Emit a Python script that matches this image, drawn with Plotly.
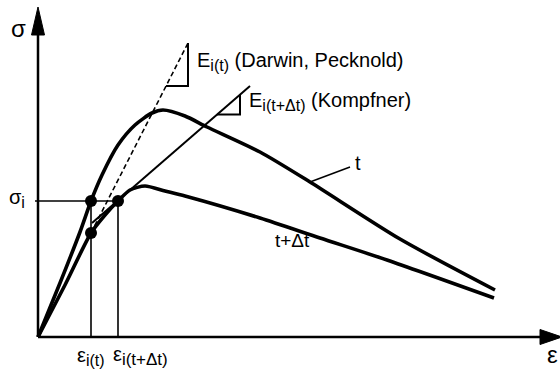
import plotly.graph_objects as go

# Stress-strain curves at loading times t and t+Δt (strain in ‰, stress in MPa)
eps_t = [0.0, 0.22, 0.42, 0.53, 0.64, 0.80, 0.97, 1.14, 1.25, 1.47, 1.69, 2.22, 2.72, 3.62, 4.57]
sig_t = [0.0, 5.4, 10.5, 13.6, 16.2, 19.2, 21.2, 22.4, 22.7, 22.1, 21.0, 18.5, 15.5, 9.8, 4.7]

eps_tdt = [0.0, 0.27, 0.53, 0.67, 0.80, 0.92, 1.07, 1.27, 1.47, 2.22, 2.82, 3.49, 4.56]
sig_tdt = [0.0, 5.2, 10.4, 12.2, 13.6, 14.7, 15.1, 14.6, 14.1, 11.9, 9.9, 7.7, 3.9]

# Stress level and the corresponding strains
sigma_i = 13.6
eps_i_t = 0.53
eps_i_tdt = 0.80
sigma_low = 10.4  # stress on the t+Δt curve at ε_i(t)

# Modulus lines: (ε, σ) end points
darwin_eps = [0.53, 1.50]
darwin_sig = [10.4, 29.4]
kompfner_eps = [0.54, 2.12]
kompfner_sig = [11.4, 25.1]

# Axis extents
eps_max = 5.24
sig_max = 33.0

BLACK = "#000000"
FONT = "Liberation Sans, Arial, sans-serif"

fig = go.Figure()


def line_at(xs, ys, x):
    k = (ys[1] - ys[0]) / (xs[1] - xs[0])
    return ys[0] + k * (x - xs[0])


# Curves
fig.add_trace(go.Scatter(x=eps_t, y=sig_t, mode="lines",
                         line=dict(color=BLACK, width=3.6, shape="spline", smoothing=0.7),
                         hoverinfo="skip"))
fig.add_trace(go.Scatter(x=eps_tdt, y=sig_tdt, mode="lines",
                         line=dict(color=BLACK, width=3.6, shape="spline", smoothing=0.7),
                         hoverinfo="skip"))

# Darwin/Pecknold modulus (dashed) and Kompfner modulus (solid thin)
fig.add_trace(go.Scatter(x=darwin_eps, y=darwin_sig, mode="lines",
                         line=dict(color=BLACK, width=1.6, dash="5px,3px"), hoverinfo="skip"))
fig.add_trace(go.Scatter(x=kompfner_eps, y=kompfner_sig, mode="lines",
                         line=dict(color=BLACK, width=2.0), hoverinfo="skip"))


# Slope triangles drawn on each modulus line
def slope_triangle(xs, ys, xa, xb):
    ya = line_at(xs, ys, xa)
    yb = line_at(xs, ys, xb)
    fig.add_trace(go.Scatter(x=[xa, xb, xb], y=[ya, ya, yb], mode="lines",
                             line=dict(color=BLACK, width=2.0), hoverinfo="skip"))


slope_triangle(darwin_eps, darwin_sig, 1.28, 1.50)
slope_triangle(kompfner_eps, kompfner_sig, 1.79, 2.02)

# Guide lines for σ_i and the two strains
fig.add_trace(go.Scatter(x=[-0.03, eps_i_tdt], y=[sigma_i, sigma_i], mode="lines",
                         line=dict(color=BLACK, width=1.6), hoverinfo="skip"))
fig.add_trace(go.Scatter(x=[eps_i_t, eps_i_t], y=[0, sigma_i], mode="lines",
                         line=dict(color=BLACK, width=1.6), hoverinfo="skip"))
fig.add_trace(go.Scatter(x=[eps_i_tdt, eps_i_tdt], y=[0, sigma_i], mode="lines",
                         line=dict(color=BLACK, width=1.6), hoverinfo="skip"))

# Marked points
fig.add_trace(go.Scatter(x=[eps_i_t, eps_i_tdt, eps_i_t], y=[sigma_i, sigma_i, sigma_low],
                         mode="markers", marker=dict(color=BLACK, size=12),
                         hoverinfo="skip"))

# Leader line for the "t" label
fig.add_trace(go.Scatter(x=[2.72, 3.12], y=[15.5, 17.0], mode="lines",
                         line=dict(color=BLACK, width=1.6), hoverinfo="skip"))

# Axes with arrowheads
shapes = [
    dict(type="line", x0=0, y0=0, x1=0, y1=sig_max - 2.0, line=dict(color=BLACK, width=2.5)),
    dict(type="line", x0=0, y0=0, x1=eps_max - 0.2, y1=0, line=dict(color=BLACK, width=2.5)),
    dict(type="path",
         path=f"M -0.065 {sig_max - 2.8} L 0.065 {sig_max - 2.8} L 0 {sig_max} Z",
         fillcolor=BLACK, line=dict(color=BLACK, width=1)),
    dict(type="path",
         path=f"M {eps_max - 0.22} -0.75 L {eps_max - 0.22} 0.75 L {eps_max} 0 Z",
         fillcolor=BLACK, line=dict(color=BLACK, width=1)),
]


def sub(text, px):
    return f'<sub><span style="font-size:{px}px">{text}</span></sub>'


def label(x, y, text, size=20, xanchor="center"):
    return dict(x=x, y=y, text=text, showarrow=False, xanchor=xanchor, yanchor="middle",
                font=dict(family=FONT, size=size, color=BLACK))


annotations = [
    label(-0.20, 30.9, "σ", 24),
    label(-0.21, 13.9, "σ" + sub("i", 16), 20),
    label(eps_i_t, -1.9, "ε" + sub("i(t)", 16), 20),
    label(0.73, -1.9, "ε" + sub("i(t+Δt)", 17), 20, "left"),
    label(5.22, -1.7, "ε", 24, "right"),
    label(1.57, 27.6, "E" + sub("i(t)", 16) + " (Darwin, Pecknold)", 20, "left"),
    label(2.09, 23.6, "E" + sub("i(t+Δt)", 16) + " (Kompfner)", 20, "left"),
    label(3.20, 17.4, "t", 20),
    label(2.54, 9.7, "t+Δt", 19),
]

fig.update_layout(
    width=560, height=372,
    margin=dict(l=0, r=0, t=0, b=0),
    paper_bgcolor="white", plot_bgcolor="white",
    showlegend=False,
    xaxis=dict(range=[-0.38, 5.22], visible=False, fixedrange=True),
    yaxis=dict(range=[-3.5, 33.7], visible=False, fixedrange=True),
    shapes=shapes,
    annotations=annotations,
)

fig.write_html("out.html")
